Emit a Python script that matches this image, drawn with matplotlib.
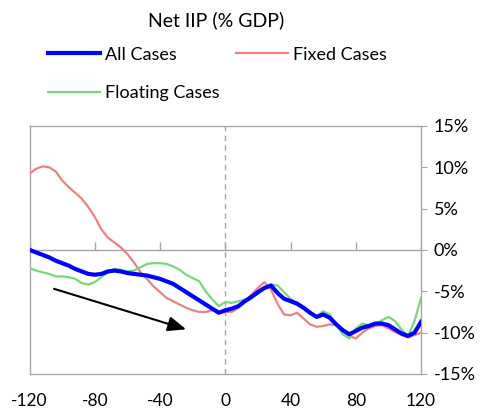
import numpy as np
import matplotlib.pyplot as plt

plt.rcParams['font.family'] = ['Lato', 'DejaVu Sans']

# months relative to the event (step of 4)
months = np.arange(-120, 121, 4)

all_cases = [0.0, -0.3, -0.6, -0.9, -1.3, -1.6, -1.9, -2.3, -2.6, -2.9,
             -3.0, -2.9, -2.6, -2.5, -2.6, -2.8, -2.9, -3.0, -3.1, -3.3,
             -3.5, -3.8, -4.1, -4.6, -5.1, -5.6, -6.1, -6.6, -7.1, -7.6,
             -7.3, -7.1, -6.8, -6.2, -5.7, -5.1, -4.6, -4.3, -5.2, -5.9,
             -6.2, -6.5, -7.0, -7.6, -8.1, -7.8, -8.2, -9.0, -9.7, -10.2,
             -9.8, -9.4, -9.2, -8.9, -8.9, -9.1, -9.6, -10.1, -10.4, -10.0,
             -8.7]

fixed_cases = [9.2, 9.8, 10.1, 10.0, 9.5, 8.4, 7.6, 6.9, 6.2, 5.2,
               4.0, 2.5, 1.5, 0.9, 0.3, -0.5, -1.5, -2.7, -3.5, -4.4,
               -5.1, -5.8, -6.2, -6.6, -7.0, -7.3, -7.5, -7.5, -7.3, -7.4,
               -7.5, -7.5, -7.0, -6.2, -5.4, -4.6, -3.9, -4.8, -6.5, -7.8,
               -7.9, -7.6, -8.3, -9.0, -9.3, -9.2, -9.0, -9.1, -9.6, -10.4,
               -10.7, -10.0, -9.5, -9.2, -9.1, -9.5, -9.9, -10.3, -10.6, -10.3,
               -10.0]

floating_cases = [-2.2, -2.5, -2.7, -2.9, -3.2, -3.2, -3.3, -3.5, -4.0, -4.2,
                  -3.9, -3.3, -2.7, -2.3, -2.4, -2.6, -2.5, -2.1, -1.7, -1.6,
                  -1.6, -1.7, -2.0, -2.4, -3.0, -3.4, -3.8, -5.0, -6.0, -6.8,
                  -6.3, -6.4, -6.2, -6.0, -5.7, -5.3, -4.7, -4.2, -4.3, -5.1,
                  -5.9, -6.4, -6.9, -7.6, -8.0, -7.4, -7.8, -9.0, -10.2, -10.7,
                  -9.5, -8.9, -9.1, -9.0, -8.5, -8.1, -8.6, -9.6, -10.4, -8.6,
                  -5.8]

xticks = [-120, -80, -40, 0, 40, 80, 120]
yticks = [-15, -10, -5, 0, 5, 10, 15]

# trend arrow (start, end)
arrow_start = (-105, -4.7)
arrow_end = (-24, -9.6)

grey = '#A6A6A6'

fig = plt.figure(figsize=(4.87, 4.15), dpi=100)
ax = fig.add_axes([0.0606, 0.0988, 0.804, 0.598])

ax.plot(months, fixed_cases, color='#EF8080', lw=1.6, label='Fixed Cases', zorder=3)
ax.plot(months, floating_cases, color='#78D878', lw=1.6, label='Floating Cases', zorder=3)
ax.plot(months, all_cases, color='#0000FF', lw=3.0, label='All Cases', zorder=4)

# zero line with upward ticks, and dashed line at t=0
ax.axhline(0, color=grey, lw=1, zorder=1)
ax.plot(xticks, np.zeros(len(xticks)), ls='none', marker=2, ms=6, mew=1,
        color=grey, zorder=1)
ax.axvline(0, color=grey, lw=1, ls=(0, (4, 3)), zorder=1)

ax.annotate('', xy=arrow_end, xytext=arrow_start,
            arrowprops=dict(arrowstyle='-|>,head_length=1.1,head_width=0.45',
                            color='black', lw=1.5, shrinkA=0, shrinkB=0))

ax.set_xlim(-120, 120)
ax.set_ylim(-15, 15)
ax.set_xticks(xticks)
ax.set_xticklabels([str(t) for t in xticks])
ax.set_yticks(yticks)
ax.set_yticklabels([f'{t}%' for t in yticks])
ax.yaxis.tick_right()
ax.tick_params(axis='x', length=0, pad=14, labelsize=12.5)
ax.tick_params(axis='y', length=4, color=grey, pad=5, labelsize=13)
for s in ax.spines.values():
    s.set_color(grey)
    s.set_linewidth(1)

fig.text(0.443, 0.952, 'Net IIP (% GDP)', ha='center', va='center', fontsize=14)

handles, labels = ax.get_legend_handles_labels()
order = [2, 1, 0]  # column-wise fill: All, Floating | Fixed
fig.legend([handles[i] for i in order], [labels[i] for i in order],
           loc='upper left', bbox_to_anchor=(0.084, 0.905), ncol=2,
           frameon=False, fontsize=13, handlelength=2.9, handletextpad=0.25,
           columnspacing=0.9, labelspacing=1.25, borderaxespad=0)

fig.savefig('out.png', dpi=100)
